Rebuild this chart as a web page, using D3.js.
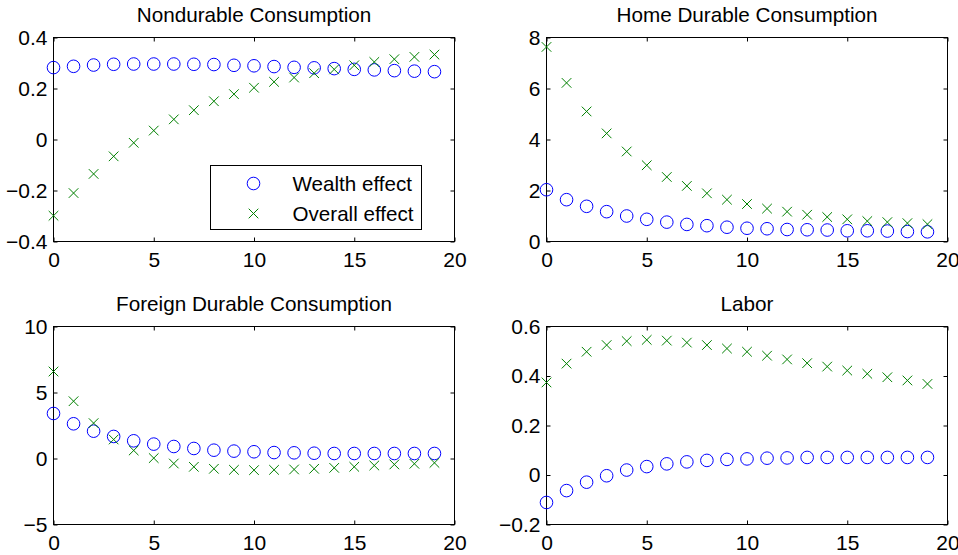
<!DOCTYPE html>
<html>
<head>
<meta charset="utf-8">
<script src="https://cdn.jsdelivr.net/npm/d3@7"></script>
<style>
  body { margin: 0; background: #fff; }
  svg { display: block; font-family: "Liberation Sans", Arial, sans-serif; }
  .tick line { stroke: #000; }
  .tick text { fill: #000; font-size: 21px; }
  .domain { display: none; }
</style>
</head>
<body>
<svg id="chart" width="958" height="555"></svg>
<script>
// periods 0..19
var periods = d3.range(0, 20);
var xTicks = [0, 5, 10, 15, 20];

var panelTitles = ['Nondurable Consumption', 'Home Durable Consumption',
  'Foreign Durable Consumption', 'Labor'];
var seriesNames = ['Wealth effect', 'Overall effect'];

var yDomains = [[-0.4, 0.4], [0, 8], [-5, 10], [-0.2, 0.6]];
var yTicks = [
  [-0.4, -0.2, 0, 0.2, 0.4],
  [0, 2, 4, 6, 8],
  [-5, 0, 5, 10],
  [-0.2, 0, 0.2, 0.4, 0.6]
];

var nondurableWealth = [0.282, 0.287, 0.292, 0.295, 0.296, 0.296, 0.296, 0.295, 0.294, 0.291,
  0.289, 0.286, 0.283, 0.281, 0.278, 0.275, 0.273, 0.270, 0.268, 0.266];
var nondurableOverall = [-0.299, -0.210, -0.135, -0.066, -0.013, 0.035, 0.079, 0.115, 0.150, 0.178,
  0.203, 0.226, 0.243, 0.260, 0.275, 0.291, 0.304, 0.315, 0.324, 0.333];

var homeWealth = [2.03, 1.64, 1.38, 1.17, 1.00, 0.87, 0.76, 0.67, 0.62, 0.56,
  0.52, 0.50, 0.47, 0.46, 0.45, 0.42, 0.42, 0.41, 0.39, 0.38];
var homeOverall = [7.63, 6.22, 5.10, 4.24, 3.53, 2.99, 2.53, 2.18, 1.89, 1.64,
  1.47, 1.29, 1.17, 1.05, 0.96, 0.87, 0.80, 0.76, 0.72, 0.68];

var foreignWealth = [3.41, 2.63, 2.07, 1.67, 1.34, 1.09, 0.91, 0.76, 0.63, 0.56,
  0.51, 0.45, 0.43, 0.40, 0.38, 0.38, 0.38, 0.38, 0.38, 0.38];
var foreignOverall = [6.59, 4.34, 2.68, 1.44, 0.61, 0.03, -0.38, -0.63, -0.78, -0.86,
  -0.88, -0.86, -0.83, -0.78, -0.71, -0.63, -0.53, -0.45, -0.40, -0.33];

var laborWealth = [-0.111, -0.063, -0.029, -0.003, 0.020, 0.034, 0.045, 0.053, 0.059, 0.063,
  0.065, 0.068, 0.069, 0.071, 0.071, 0.071, 0.071, 0.071, 0.071, 0.071];
var laborOverall = [0.374, 0.450, 0.498, 0.525, 0.541, 0.546, 0.543, 0.535, 0.525, 0.511,
  0.498, 0.482, 0.467, 0.452, 0.438, 0.422, 0.409, 0.395, 0.382, 0.368];

var wealthSeries = [nondurableWealth, homeWealth, foreignWealth, laborWealth];
var overallSeries = [nondurableOverall, homeOverall, foreignOverall, laborOverall];

var blue = '#0000ff';
var green = '#008000';

// subplot boxes (left, top, width, height)
var boxes = [
  [53, 37, 401, 204],
  [546, 37, 401, 204],
  [53, 326, 401, 198],
  [546, 326, 401, 198]
];

var svg = d3.select('#chart');

function crossPath(s) {
  return 'M' + (-s) + ',' + (-s) + 'L' + s + ',' + s + 'M' + (-s) + ',' + s + 'L' + s + ',' + (-s);
}

panelTitles.forEach(function(title, i) {
  var b = boxes[i];
  var w = b[2], h = b[3];
  var g = svg.append('g')
    .attr('transform', 'translate(' + (b[0] + 0.5) + ',' + (b[1] + 0.5) + ')');

  var x = d3.scaleLinear().domain([0, 20]).range([0, w]);
  var y = d3.scaleLinear().domain(yDomains[i]).range([h, 0]);

  // inward ticks on all four sides, like a boxed matlab axis
  g.append('g')
    .attr('transform', 'translate(0,' + h + ')')
    .call(d3.axisBottom(x).tickValues(xTicks).tickSizeInner(-4).tickSizeOuter(0).tickPadding(11));
  g.append('g')
    .call(d3.axisTop(x).tickValues(xTicks).tickSizeInner(-4).tickSizeOuter(0).tickFormat(''));
  g.append('g')
    .call(d3.axisLeft(y).tickValues(yTicks[i]).tickSizeInner(-4).tickSizeOuter(0).tickPadding(6)
      .tickFormat(function(d) { return d3.format('')(+d.toFixed(2)); }));
  g.append('g')
    .attr('transform', 'translate(' + w + ',0)')
    .call(d3.axisRight(y).tickValues(yTicks[i]).tickSizeInner(-4).tickSizeOuter(0).tickFormat(''));

  g.append('rect')
    .attr('width', w)
    .attr('height', h)
    .attr('fill', 'none')
    .attr('stroke', '#000');

  g.append('text')
    .attr('x', w / 2)
    .attr('y', -16)
    .attr('text-anchor', 'middle')
    .style('font-size', '20.7px')
    .text(title);

  g.selectAll('.wealth')
    .data(wealthSeries[i])
    .enter()
    .append('circle')
    .classed('wealth', true)
    .attr('cx', function(d, k) { return x(periods[k]); })
    .attr('cy', function(d) { return y(d); })
    .attr('r', 6.3)
    .attr('fill', 'none')
    .attr('stroke', blue);

  g.selectAll('.overall')
    .data(overallSeries[i])
    .enter()
    .append('path')
    .classed('overall', true)
    .attr('transform', function(d, k) { return 'translate(' + x(periods[k]) + ',' + y(d) + ')'; })
    .attr('d', crossPath(4.8))
    .attr('fill', 'none')
    .attr('stroke', green);

  // legend only in the first panel
  if (i === 0) {
    var lg = g.append('g').attr('transform', 'translate(' + (210 - b[0]) + ',' + (165 - b[1]) + ')');
    lg.append('rect')
      .attr('width', 211)
      .attr('height', 64)
      .attr('fill', '#fff')
      .attr('stroke', '#000');
    seriesNames.forEach(function(name, k) {
      var row = lg.append('g').attr('transform', 'translate(0,' + (18 + k * 30) + ')');
      if (k === 0) {
        row.append('circle').attr('cx', 43).attr('r', 6.3).attr('fill', 'none').attr('stroke', blue);
      } else {
        row.append('path').attr('transform', 'translate(43,0)').attr('d', crossPath(4.8))
          .attr('fill', 'none').attr('stroke', green);
      }
      row.append('text')
        .attr('x', 82)
        .attr('y', 7)
        .style('font-size', '20.6px')
        .text(name);
    });
  }
});
</script>
</body>
</html>
